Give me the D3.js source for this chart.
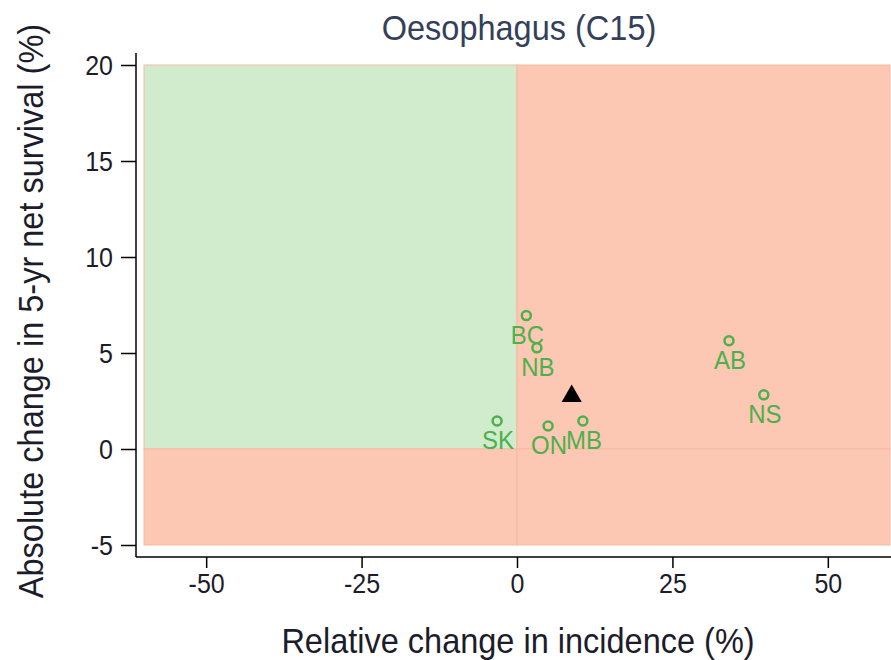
<!DOCTYPE html>
<html>
<head>
<meta charset="utf-8">
<script src="https://cdn.jsdelivr.net/npm/d3@7"></script>
<style>
  body { margin: 0; background: #fff; }
  text { font-family: "Liberation Sans", Arial, sans-serif; }
</style>
</head>
<body>
<div id="chart"></div>
<script>
const w = 891, h = 660;

// data
const provinces = ['BC', 'NB', 'SK', 'ON', 'MB', 'AB', 'NS'];
const incidenceChange = [1.5, 3.2, -3.2, 5.0, 10.6, 34.1, 39.7];
const survivalChange = [6.95, 5.27, 1.46, 1.2, 1.46, 5.64, 2.82];
const canada = { x: 8.8, y: 2.75 };
const xTicks = [-50, -25, 0, 25, 50];
const yTicks = [-5, 0, 5, 10, 15, 20];

const stretch = 1.1; // text in the picture is a bit taller than wide

const x = d3.scaleLinear().domain([-60, 60]).range([144, 890]);
const y = d3.scaleLinear().domain([-5, 20]).range([545, 65]);

const svg = d3.select('#chart')
  .append('svg')
  .attr('width', w)
  .attr('height', h);

// background quadrants
const quads = [
  { x0: -60, x1: 0, y0: 0, y1: 20, fill: '#d1ebcd' },
  { x0: 0, x1: 60, y0: 0, y1: 20, fill: '#fcc7b3' },
  { x0: -60, x1: 0, y0: -5, y1: 0, fill: '#fcc7b3' },
  { x0: 0, x1: 60, y0: -5, y1: 0, fill: '#fcc7b3' }
];
svg.selectAll('.quad')
  .data(quads)
  .enter()
  .append('rect')
  .attr('class', 'quad')
  .attr('x', d => x(d.x0))
  .attr('y', d => y(d.y1))
  .attr('width', d => x(d.x1) - x(d.x0))
  .attr('height', d => y(d.y0) - y(d.y1))
  .style('fill', d => d.fill)
  .style('stroke', '#f7b9a2')
  .style('stroke-width', 1);

// axes
const axisX = 136, axisY = 557;
svg.append('line')
  .attr('x1', axisX).attr('x2', axisX)
  .attr('y1', 53).attr('y2', axisY)
  .style('stroke', '#000').style('stroke-width', 1.5);
svg.append('line')
  .attr('x1', axisX).attr('x2', w)
  .attr('y1', axisY).attr('y2', axisY)
  .style('stroke', '#000').style('stroke-width', 1.5);

const yAxis = svg.append('g')
  .attr('transform', 'translate(' + axisX + ',0)')
  .call(d3.axisLeft(y).tickValues(yTicks).tickFormat(d => String(d)).tickSize(15).tickPadding(0));
const xAxis = svg.append('g')
  .attr('transform', 'translate(0,' + axisY + ')')
  .call(d3.axisBottom(x).tickValues(xTicks).tickFormat(d => String(d)).tickSize(11).tickPadding(0));

[xAxis, yAxis].forEach(a => {
  a.select('.domain').remove();
  a.selectAll('.tick line').style('stroke', '#000').style('stroke-width', 1.5);
});
yAxis.selectAll('.tick text')
  .attr('x', null).attr('dy', null)
  .attr('transform', 'translate(-23,9) scale(1,' + stretch + ')')
  .style('font-size', '25px')
  .style('fill', '#1c1c2a');
xAxis.selectAll('.tick text')
  .attr('y', null).attr('dy', null)
  .attr('transform', 'translate(0,36) scale(1,' + stretch + ')')
  .style('font-size', '25px')
  .style('fill', '#1c1c2a');

// points
const pts = provinces.map((p, i) => ({ name: p, x: incidenceChange[i], y: survivalChange[i] }));
svg.selectAll('.pt')
  .data(pts)
  .enter()
  .append('circle')
  .attr('class', 'pt')
  .attr('cx', d => x(d.x))
  .attr('cy', d => y(d.y))
  .attr('r', 4.5)
  .style('fill', 'none')
  .style('stroke', '#4cb04c')
  .style('stroke-width', 2.5);

svg.selectAll('.lbl')
  .data(pts)
  .enter()
  .append('text')
  .attr('class', 'lbl')
  .attr('transform', d => 'translate(' + (x(d.x) + 1) + ',' + (y(d.y) + 28) + ') scale(1,' + stretch + ')')
  .attr('text-anchor', 'middle')
  .style('font-size', '24px')
  .style('fill', '#4cb04c')
  .text(d => d.name);

svg.append('path')
  .attr('d', d3.symbol().type(d3.symbolTriangle).size(175)())
  .attr('transform', 'translate(' + x(canada.x) + ',' + y(canada.y) + ')')
  .style('fill', '#000');

// titles
svg.append('text')
  .attr('transform', 'translate(519,40) scale(1,' + stretch + ')')
  .attr('text-anchor', 'middle')
  .style('font-size', '32.5px')
  .style('fill', '#34405a')
  .text('Oesophagus (C15)');

svg.append('text')
  .attr('transform', 'translate(518,653) scale(1,' + stretch + ')')
  .attr('text-anchor', 'middle')
  .style('font-size', '32.5px')
  .style('fill', '#1c1c2a')
  .text('Relative change in incidence (%)');

svg.append('text')
  .attr('transform', 'translate(43,311) rotate(-90) scale(1,' + stretch + ')')
  .attr('text-anchor', 'middle')
  .style('font-size', '32.5px')
  .style('fill', '#1c1c2a')
  .text('Absolute change in 5-yr net survival (%)');
</script>
</body>
</html>
